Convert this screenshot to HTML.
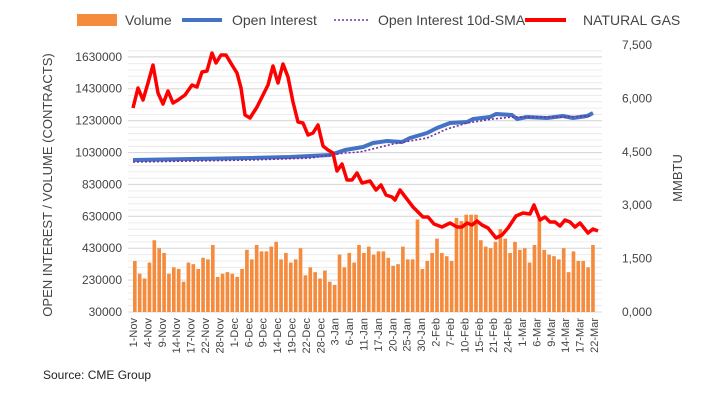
<!DOCTYPE html><html><head><style>body{margin:0;background:#fff}svg{font-family:"Liberation Sans",sans-serif}</style></head><body>
<svg id="s" width="702" height="411" xmlns="http://www.w3.org/2000/svg">
<g id="grid"></g><g id="bars"></g>
<polyline id="oi" fill="none" stroke="#4472c4" stroke-width="4" stroke-linejoin="round"/>
<polyline id="sma" fill="none" stroke="#7030a0" stroke-width="1.6" stroke-dasharray="2,2"/>
<polyline id="ng" fill="none" stroke="#ff0000" stroke-width="3.5" stroke-linejoin="round"/>
<g id="lab" font-size="12" fill="#444"></g>
<rect x="77" y="14" width="40" height="12" fill="#f58b3d"/>
<text x="125" y="25" font-size="14" fill="#444">Volume</text>
<line x1="182" y1="20" x2="222" y2="20" stroke="#4472c4" stroke-width="4"/>
<text x="232" y="25" font-size="14" fill="#444">Open Interest</text>
<line x1="334" y1="20" x2="370" y2="20" stroke="#7030a0" stroke-width="1.6" stroke-dasharray="2,2"/>
<text x="378" y="25" font-size="14" fill="#444">Open Interest 10d-SMA</text>
<line x1="525" y1="20" x2="566" y2="20" stroke="#ff0000" stroke-width="4"/>
<text x="583" y="25" font-size="14" fill="#444">NATURAL GAS</text>
<text transform="translate(52,185) rotate(-90)" text-anchor="middle" font-size="13" fill="#444">OPEN INTEREST / VOLUME (CONTRACTS)</text>
<text transform="translate(682,178) rotate(-90)" text-anchor="middle" font-size="13" fill="#444">MMBTU</text>
<text x="43" y="379" font-size="12" fill="#222">Source: CME Group</text>
</svg>
<script>
var ns="http://www.w3.org/2000/svg";function el(t,a,p,txt){var e=document.createElementNS(ns,t);for(var k in a)e.setAttribute(k,a[k]);if(txt)e.textContent=txt;document.getElementById(p).appendChild(e);}
for(var y=312;y>=45;y-=6.37){el('line',{x1:128,x2:602,y1:y,y2:y,stroke:'#ececec','stroke-width':1},'grid');}
var L=[30000,230000,430000,630000,830000,1030000,1230000,1430000,1630000];
L.forEach(function(v,i){var y=312-i*31.9;el('line',{x1:128,x2:602,y1:y,y2:y,stroke:'#d9d9d9'},'grid');el('text',{x:122,y:y+4,'text-anchor':'end'},'lab',String(v));});
['0,000','1,500','3,000','4,500','6,000','7,500'].forEach(function(t,i){el('text',{x:622,y:316-i*53.4},'lab',t);});
var v=[350,270,240,340,480,430,400,270,310,300,220,340,330,300,370,360,450,250,270,280,270,250,300,420,360,450,410,410,440,470,360,400,340,360,430,260,310,280,240,290,220,200,390,310,400,340,450,400,440,390,410,410,370,320,330,440,360,360,610,300,350,400,490,400,380,350,620,600,640,640,640,480,440,430,470,550,490,400,470,420,430,340,450,620,420,390,380,360,430,280,410,350,350,310,450];
var n=v.length,w=(596-133)/n;v.forEach(function(x,i){var h=(x*1000-30000)/200000*31.9;el('rect',{x:133+i*w,y:312-h,width:w*0.75,height:h,fill:'#f58b3d'},'bars');});
var d=['1-Nov','4-Nov','9-Nov','14-Nov','17-Nov','22-Nov','28-Nov','1-Dec','6-Dec','9-Dec','14-Dec','19-Dec','22-Dec','28-Dec','3-Jan','6-Jan','11-Jan','17-Jan','20-Jan','25-Jan','30-Jan','2-Feb','7-Feb','10-Feb','15-Feb','21-Feb','24-Feb','1-Mar','6-Mar','9-Mar','14-Mar','17-Mar','22-Mar'];
d.forEach(function(t,i){var x=137+i*(598-137)/(d.length-1);el('text',{transform:'translate('+x+',318) rotate(-90)','text-anchor':'end','font-size':11},'lab',t);});
document.getElementById('ng').setAttribute('points',"133,108 138,88 143,100 148,83 153,65 158,93 163,104 168,91 173,103 178,100 185,95 192,85 197,87 202,72 207,71 212,53 216,63 221,55 226,55 232,65 237,73 241,88 245,115 250,118 257,107 263,95 268,85 273,66 278,83 283,64 288,77 293,102 298,122 303,123 308,135 313,133 318,125 323,146 328,150 333,153 337,171 342,164 347,180 352,180 357,173 362,183 370,181 376,190 381,185 386,195 392,197 395,200 400,190 413,207 423,217 428,217 434,224 442,227 450,223 457,227 462,227 467,223 472,225 477,221 482,225 488,228 496,238 502,235 508,228 516,216 523,213 530,214 534,205 540,220 545,217 550,222 555,222 560,226 565,220 570,222 575,227 580,223 588,233 593,229 598,231");
document.getElementById('oi').setAttribute('points',"133,160 250,158 290,157 330,155 345,150 363,147 373,143 387,141 402,142 410,138 427,133 437,128 450,123 467,122 473,119 490,117 496,114 512,115 517,119 527,117 547,118 563,116 573,118 587,116 593,113");
document.getElementById('sma').setAttribute('points',"133,162 250,160 310,158 345,153 360,152 393,144 427,138 447,129 467,123 493,119 513,117 560,117 592,116");
</script></body></html>
